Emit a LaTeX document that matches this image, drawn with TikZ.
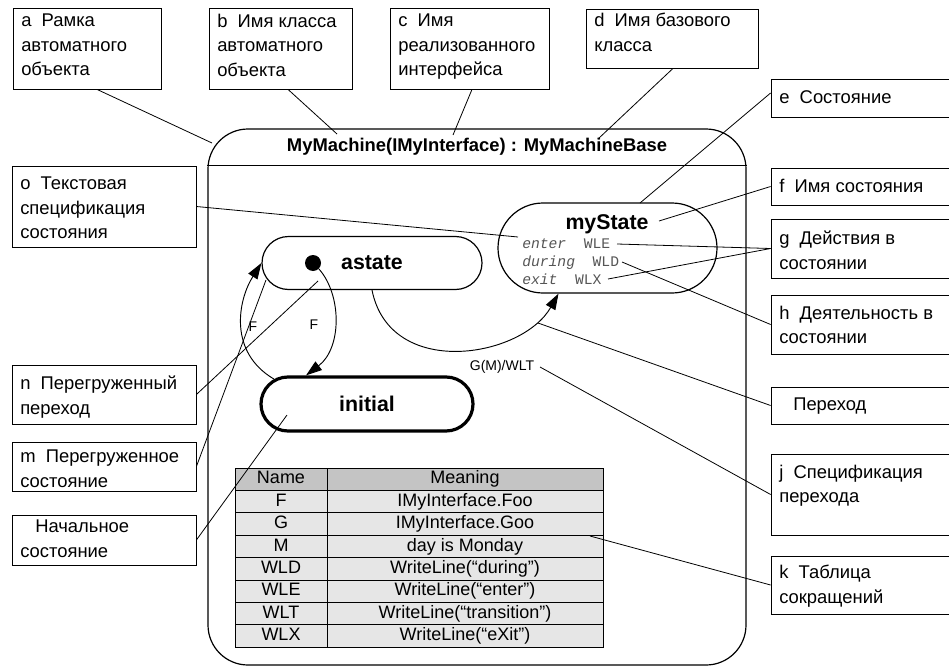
\documentclass[tikz,border=0pt]{standalone}
\usepackage{fontspec}
\setmainfont{Liberation Sans}
\setmonofont{Liberation Mono}
\usetikzlibrary{shapes.misc,arrows.meta,calc,fit}
\definecolor{headgray}{HTML}{C4C4C4}
\definecolor{rowgray}{HTML}{E6E6E6}
\definecolor{actgray}{HTML}{555555}

\begin{document}
\begin{tikzpicture}[x=0.75pt,y=-0.75pt,
  thinline/.style={line width=0.6pt},
  cbox/.style={draw, thinline, inner sep=0pt, rectangle},
  ctext/.style={anchor=north west, inner sep=0pt, align=left,
                font=\fontsize{13.8}{18.5}\selectfont},
  lead/.style={thinline},
  frame/.style={draw, line width=0.9pt, rounded corners=30pt, inner sep=0pt},
  statebox/.style={draw, rounded rectangle, line width=0.9pt, inner sep=0pt},
  sname/.style={font=\fontsize{16}{18}\selectfont\bfseries, inner sep=0pt},
  trans/.style={line width=0.7pt, -{Triangle[length=12pt,width=8pt]}},
  tlabel/.style={font=\fontsize{10.5}{12}\selectfont, inner sep=0pt},
  act/.style={font=\fontsize{11}{13}\selectfont\ttfamily, text=actgray,
              anchor=base west, inner sep=0pt},
  cell/.style={draw, thinline, inner sep=0pt, minimum height=16.8pt,
               text height=10pt, text depth=3pt,
               font=\fontsize{13.5}{15}\selectfont},
]
\useasboundingbox (0,0) rectangle (949,667);
\clip (0,0) rectangle (949,667);

% ---------- machine frame ----------
\node[frame, fit={(208,129) (746,665)}] (frame) {};
\draw[line width=0.9pt] ($(frame.north west)+(0,37)$) -- ($(frame.north east)+(0,37)$);
\node[font=\fontsize{13.8}{16}\selectfont\bfseries, inner sep=0pt] (title) at (477,147)
  {MyMachine(IMyInterface) : MyMachineBase};

% ---------- states ----------
\node[statebox, minimum width=165pt, minimum height=39.75pt, sname] (astate) at (372,263) {astate};
\node[circle, fill=black, minimum size=12pt, inner sep=0pt] (dot) at (313,263) {};
\node[statebox, line width=2.4pt, minimum width=159pt, minimum height=40.5pt, sname] (initial) at (367,404) {initial};
\node[statebox, minimum width=164.25pt, minimum height=67.5pt] (mystate) at (607.5,248) {};
\node[sname] (msname) at (607,224) {myState};
\node[act] (act1) at (522,248) {\textit{enter}\ \ WLE};
\node[act] (act2) at (522,266) {\textit{during}\ \ WLD};
\node[act] (act3) at (522,284) {\textit{exit}\ \ WLX};

% ---------- transitions ----------
\coordinate (initA) at ($(initial.north)+(-61,0)$);
\coordinate (msB) at ($(mystate.south)+(-49,0)$);
\draw[trans] (dot.south east) .. controls (342,295) and (342,348) .. (initA);
\node[tlabel] (f1) at (314,325) {F};
\draw[trans] (initial.165) .. controls (228,352) and (238,300) .. (astate.west);
\node[tlabel] (f2) at (253,327) {F};
\draw[trans] (astate.south) .. controls (390,380) and (522,358) .. (msB);
\node[tlabel] (glabel) at (502,367) {G(M)/WLT};

% ---------- abbreviation table ----------
\node[cell, fill=headgray, minimum width=69pt] (hn) at (281,479.2) {Name};
\node[cell, fill=headgray, minimum width=207pt] (hm) at (465,479.2) {Meaning};
\foreach \n/\m [count=\k] in {F/IMyInterface.Foo, G/IMyInterface.Goo, M/day is Monday,
    WLD/WriteLine(“during”), WLE/WriteLine(“enter”), WLT/WriteLine(“transition”),
    WLX/WriteLine(“eXit”)} {
  \node[cell, fill=rowgray, minimum width=69pt] (n\k) at (281,{479.2+22.4*\k}) {\n};
  \node[cell, fill=rowgray, minimum width=207pt] (m\k) at (465,{479.2+22.4*\k}) {\m};
}

% ---------- callout boxes ----------
\node[cbox, fit={(13,8) (161,89)}] (a) {};
\node[ctext] (at) at (21,13.7) {a\ \ Рамка\\автоматного\\объекта};
\node[cbox, fit={(209,8) (352,89)}] (b) {};
\node[ctext] (bt) at (217,13.7) {b\ \ Имя класса\\автоматного\\объекта};
\node[cbox, fit={(390,8) (549,89)}] (c) {};
\node[ctext] (ct) at (398,13.7) {c\ \ Имя\\реализованного\\интерфейса};
\node[cbox, fit={(586,9) (758,68)}] (d) {};
\node[ctext] (dt) at (594,12.7) {d\ \ Имя базового\\класса};
\node[cbox, fit={(771,79) (960,117)}] (e) {};
\node[ctext] (et) at (779,90.7) {e\ \ Состояние};
\node[cbox, fit={(771,168) (960,205)}] (f) {};
\node[ctext] (ft) at (779,178.7) {f\ \ Имя состояния};
\node[cbox, fit={(771,219) (960,278)}] (g) {};
\node[ctext] (gt) at (779,230.7) {g\ \ Действия в\\состоянии};
\node[cbox, fit={(771,295) (960,354)}] (h) {};
\node[ctext] (ht) at (779,305.7) {h\ \ Деятельность в\\состоянии};
\node[cbox, fit={(771,387) (960,424)}] (i) {};
\node[ctext] (it) at (793,397.7) {Переход};
\node[cbox, fit={(771,454) (960,535)}] (j) {};
\node[ctext] (jt) at (779,464.7) {j\ \ Спецификация\\перехода};
\node[cbox, fit={(771,556) (960,614)}] (k) {};
\node[ctext] (kt) at (779,564.7) {k\ \ Таблица\\сокращений};
\node[cbox, fit={(12,166) (196,247)}] (o) {};
\node[ctext] (ot) at (20,176.7) {o\ \ Текстовая\\спецификация\\состояния};
\node[cbox, fit={(12,365) (196,424)}] (n) {};
\node[ctext] (nt) at (20,375.7) {n\ \ Перегруженный\\переход};
\node[cbox, fit={(12,442) (196,491)}] (m) {};
\node[ctext] (mt) at (20,449.7) {m\ \ Перегруженное\\состояние};
\node[cbox, fit={(12,515) (196,565)}] (l) {};
\node[ctext] (lt) at (20,519.7) {\hspace*{11.25pt}Начальное\\состояние};

% ---------- leader lines ----------
\coordinate (pa) at (212,143);
\coordinate (pb) at (337,134);
\coordinate (pc) at (453,135);
\coordinate (pd) at (598,139);
\coordinate (pe) at (640,203);
\coordinate (pf) at (659,221);
\coordinate (pg1) at (617,244);
\coordinate (pg2) at (608,279);
\coordinate (ph) at (622,262);
\coordinate (pi) at (538,323);
\coordinate (pj) at (540,367);
\coordinate (pk) at (590,536);
\coordinate (po) at (518,237);
\coordinate (pn) at (318,281);
\coordinate (pm) at (266,280);
\coordinate (pl) at (287,415);

\draw[lead] ($(a.south)+(10,0)$) -- (pa);
\draw[lead] ($(b.south)+(7.5,0)$) -- (pb);
\draw[lead] ($(c.south)+(2.5,0)$) -- (pc);
\draw[lead] ($(d.south)+(1,0)$) -- (pd);
\draw[lead] ($(e.west)+(0,-5)$) -- (pe);
\draw[lead] (f.west) -- (pf);
\draw[lead] (g.west) -- (pg1);
\draw[lead] (g.west) -- (pg2);
\draw[lead] (h.west) -- (ph);
\draw[lead] (i.west) -- (pi);
\draw[lead] (j.west) -- (pj);
\draw[lead] (k.west) -- (pk);
\draw[lead] (o.east) -- (po);
\draw[lead] (n.east) -- (pn);
\draw[lead] (m.east) -- (pm);
\draw[lead] (l.east) -- (pl);
\end{tikzpicture}
\end{document}
